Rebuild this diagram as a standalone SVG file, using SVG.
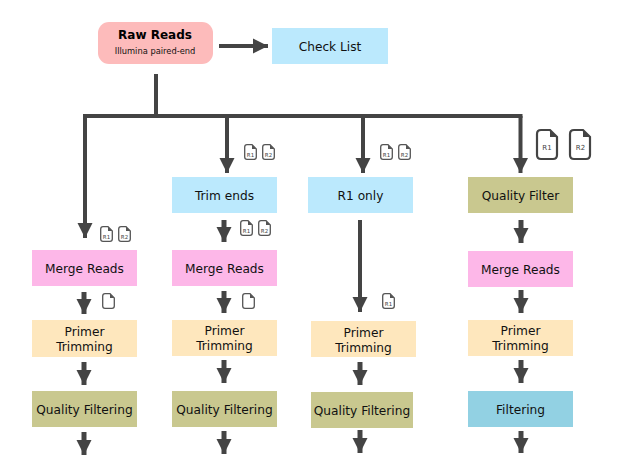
<svg xmlns="http://www.w3.org/2000/svg" width="618" height="465" viewBox="0 0 618 465">
<style>
text{font-family:"DejaVu Sans",sans-serif;font-size:12.200px;fill:#111;text-anchor:middle;opacity:.999}
.c{fill:none;stroke:#444;stroke-width:4}
.s{stroke-width:5}
.a{marker-end:url(#ah)}
.blue{fill:#bbe9fd}.pink{fill:#fdb7e8}.tan{fill:#fee7bd}.olive{fill:#c9c88f}.teal{fill:#92d1e3}
.doc{fill:#fff;stroke:#555;stroke-width:1.3}
.dog{fill:#555}
.dl{font-size:5.500px;fill:#444}
.dlb{font-size:7px;fill:#444}
.docb{fill:#fff;stroke:#444;stroke-width:2.200}
.dogb{fill:#444}
</style>
<defs>
<marker id="ah" markerUnits="userSpaceOnUse" markerWidth="16" markerHeight="16" refX="15" refY="8" orient="auto"><path d="M0 0.500L15 8L0 15.500Z" fill="#444"/></marker>
<g id="d"><path class="doc" d="M3 0.700H8L12.300 5V13Q12.300 15.300 10 15.300H3Q0.700 15.300 0.700 13V3Q0.700 0.700 3 0.700Z"/><path class="dog" d="M8 0.700L12.300 5H8Z"/></g>
<g id="D"><path class="docb" d="M5 1H14L21 8V26Q21 30 17 30H5Q1 30 1 26V5Q1 1 5 1Z"/><path class="dogb" d="M14 1L21 8H14Z"/></g>
</defs>
<g id="connectors">
<path class="c" d="M156 74V116"/>
<path class="c" d="M83 116H522.500"/>
<path class="c a" d="M219 46H268"/>
<path class="c a" d="M85 116V238"/>
<path class="c a" d="M227 116V173"/>
<path class="c a" d="M363 116V173"/>
<path class="c a" d="M520.500 116V173"/>
<path class="c s a" d="M224 220V242"/>
<path class="c s a" d="M84 292V314"/>
<path class="c s a" d="M224 291V313"/>
<path class="c s a" d="M84 362V385"/>
<path class="c s a" d="M224 360V383"/>
<path class="c s a" d="M84 432V455"/>
<path class="c s a" d="M224 431V454"/>
<path class="c a" d="M360 220V312"/>
<path class="c s a" d="M360 362V385"/>
<path class="c s a" d="M360 430V453"/>
<path class="c s a" d="M521 220V243"/>
<path class="c s a" d="M521 290V313"/>
<path class="c s a" d="M521 360V383"/>
<path class="c s a" d="M521 431V453"/>
</g>
<g id="raw"><rect x="98" y="22" width="115" height="42" rx="11" fill="#fdbbbb"/><text x="155" y="39" style="font-weight:bold;font-size:12px;fill:#000">Raw Reads</text><text x="155" y="54" style="font-size:8.300px">Illumina paired-end</text></g>
<g id="checklist"><rect class="blue" x="272" y="28" width="116" height="36"/><text x="330" y="51">Check List</text></g>
<g id="trim"><rect class="blue" x="172" y="177" width="105" height="36"/><text x="224.500" y="200">Trim ends</text></g>
<g id="r1only"><rect class="blue" x="308" y="177" width="105" height="36"/><text x="360.500" y="200">R1 only</text></g>
<g id="qf4"><rect class="olive" x="468" y="177" width="105" height="36"/><text x="520.500" y="200">Quality Filter</text></g>
<g id="merge1"><rect class="pink" x="32" y="250" width="105" height="36"/><text x="84.500" y="273">Merge Reads</text></g>
<g id="merge2"><rect class="pink" x="172" y="250" width="105" height="36"/><text x="224.500" y="273">Merge Reads</text></g>
<g id="merge4"><rect class="pink" x="468" y="251" width="105" height="36"/><text x="520.500" y="274">Merge Reads</text></g>
<g id="primer1"><rect class="tan" x="32" y="320" width="105" height="37"/><text x="84.500" y="336">Primer</text><text x="84.500" y="351">Trimming</text></g>
<g id="primer2"><rect class="tan" x="172" y="320" width="105" height="36"/><text x="224.500" y="335">Primer</text><text x="224.500" y="350">Trimming</text></g>
<g id="primer3"><rect class="tan" x="311" y="321" width="105" height="36"/><text x="363.500" y="337">Primer</text><text x="363.500" y="352">Trimming</text></g>
<g id="primer4"><rect class="tan" x="468" y="320" width="105" height="36"/><text x="520.500" y="335">Primer</text><text x="520.500" y="350">Trimming</text></g>
<g id="qual1"><rect class="olive" x="32" y="391" width="105" height="36"/><text x="84.500" y="414">Quality Filtering</text></g>
<g id="qual2"><rect class="olive" x="172" y="391" width="105" height="36"/><text x="224.500" y="414">Quality Filtering</text></g>
<g id="qual3"><rect class="olive" x="311" y="392" width="102" height="36"/><text x="362" y="415">Quality Filtering</text></g>
<g id="filtering"><rect class="teal" x="468" y="391" width="105" height="36"/><text x="520.500" y="414">Filtering</text></g>
<g id="files">
<use href="#D" x="536" y="129"/><text class="dlb" x="547" y="150">R1</text>
<use href="#D" x="569" y="129"/><text class="dlb" x="580.500" y="150">R2</text>
<use href="#d" x="244" y="144"/><text class="dl" x="250.500" y="157">R1</text>
<use href="#d" x="262" y="144"/><text class="dl" x="268.500" y="157">R2</text>
<use href="#d" x="380" y="144"/><text class="dl" x="386.500" y="157">R1</text>
<use href="#d" x="398" y="144"/><text class="dl" x="404.500" y="157">R2</text>
<use href="#d" x="240" y="220"/><text class="dl" x="246.500" y="233">R1</text>
<use href="#d" x="258" y="220"/><text class="dl" x="264.500" y="233">R2</text>
<use href="#d" x="100" y="226"/><text class="dl" x="106.500" y="239">R1</text>
<use href="#d" x="118" y="226"/><text class="dl" x="124.500" y="239">R2</text>
<use href="#d" x="102" y="293"/>
<use href="#d" x="242" y="293"/>
<use href="#d" x="382" y="293"/><text class="dl" x="388.500" y="306">R1</text>
</g>
</svg>
